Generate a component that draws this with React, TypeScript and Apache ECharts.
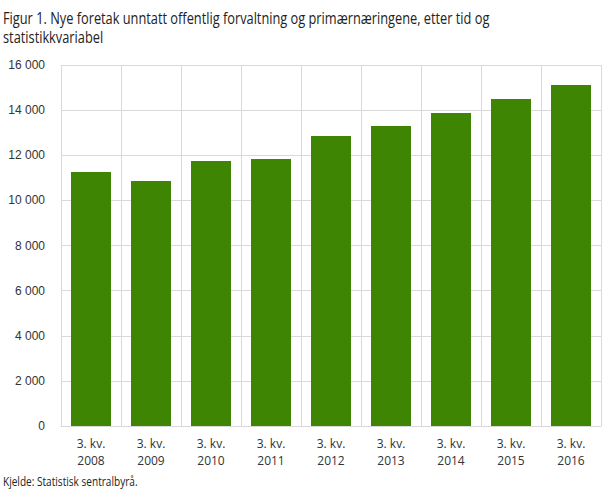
import * as echarts from "echarts";
import React, { useEffect, useRef } from "react";

const categories = ["2008", "2009", "2010", "2011", "2012", "2013", "2014", "2015", "2016"];
const quarterLabel = "3. kv.";
const values = [11255, 10856, 11743, 11831, 12851, 13295, 13871, 14492, 15113];

const titleLines = [
  "Figur 1. Nye foretak unntatt offentlig forvaltning og primærnæringene, etter tid og",
  "statistikkvariabel",
];
const sourceText = "Kjelde: Statistisk sentralbyrå.";

const App: React.FC = () => {
  const chartRef = useRef<HTMLDivElement | null>(null);

  useEffect(() => {
    const chart = echarts.init(chartRef.current, null, { renderer: "svg" });
    chart.setOption({
      animation: false,
      grid: { left: 61, right: 8, top: 65, bottom: 63 },
      xAxis: {
        type: "category",
        data: categories.map((c) => quarterLabel + "\n" + c),
        axisLine: { show: true, lineStyle: { color: "#d9d9d9" } },
        axisTick: { show: false },
        splitLine: { show: true, lineStyle: { color: "#d9d9d9", width: 1 } },
        axisLabel: {
          color: "#333",
          fontFamily: "'Open Sans', sans-serif",
          fontSize: 12,
          lineHeight: 17,
          margin: 9,
          interval: 0,
        },
      },
      yAxis: {
        type: "value",
        min: 0,
        max: 16000,
        interval: 2000,
        axisLine: { show: false },
        axisTick: { show: false },
        splitLine: { lineStyle: { color: "#d9d9d9", width: 1 } },
        axisLabel: {
          color: "#333",
          fontFamily: "'Liberation Sans', Arial, sans-serif",
          fontSize: 12,
          margin: 16,
          formatter: (v: number) => String(v).replace(/\B(?=(\d{3})+(?!\d))/g, " "),
        },
      },
      series: [
        {
          type: "bar",
          data: values,
          barWidth: 40,
          itemStyle: { color: "#3d8503" },
        },
      ],
      graphic: [
        ...titleLines.map((line, i) => ({
          type: "text",
          x: 3,
          y: 18 + i * 19,
          scaleX: 0.8,
          style: {
            text: line,
            fontFamily: "'Open Sans', sans-serif",
            fontSize: 16,
            fill: "#222",
            verticalAlign: "middle",
          },
        })),
        {
          type: "text",
          x: 3,
          y: 481,
          scaleX: 0.84,
          style: {
            text: sourceText,
            fontFamily: "'Open Sans', sans-serif",
            fontSize: 12,
            fill: "#222",
            verticalAlign: "middle",
          },
        },
      ],
    });

    return () => {
      chart.dispose();
    };
  }, []);

  return (
    <div
      ref={chartRef}
      style={{ position: "absolute", left: 0, top: 0, width: "609px", height: "489px" }}
    ></div>
  );
};

export default App;
